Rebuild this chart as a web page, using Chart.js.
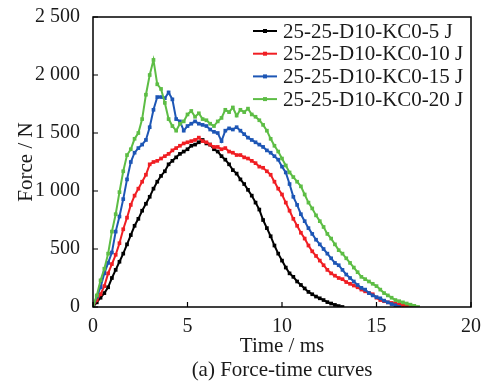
<!DOCTYPE html>
<html>
<head>
<meta charset="utf-8">
<script src="https://cdn.jsdelivr.net/npm/chart.js@4.4.1/dist/chart.umd.min.js"></script>
<style>
html,body{margin:0;padding:0;background:#fff;}
#wrap{width:485px;height:386px;position:relative;}
</style>
</head>
<body>
<div id="wrap"><canvas id="c" width="485" height="386"></canvas></div>
<script>
// Time axis (ms), shared by all series
const times = [0,0.2,0.4,0.6,0.8,1.0,1.2,1.4,1.6,1.8,2.0,2.2,2.4,2.6,2.8,3.0,3.2,3.4,3.6,3.8,4.0,4.2,4.4,4.6,4.8,5.0,5.2,5.4,5.6,5.8,6.0,6.2,6.4,6.6,6.8,7.0,7.2,7.4,7.6,7.8,8.0,8.2,8.4,8.6,8.8,9.0,9.2,9.4,9.6,9.8,10.0,10.2,10.4,10.6,10.8,11.0,11.2,11.4,11.6,11.8,12.0,12.2,12.4,12.6,12.8,13.0,13.2,13.4,13.6,13.8,14.0,14.2,14.4,14.6,14.8,15.0,15.2,15.4,15.6,15.8,16.0,16.2,16.4,16.6,16.8,17.0,17.2];

const seriesLabels = ["25-25-D10-KC0-5 J","25-25-D10-KC0-10 J","25-25-D10-KC0-15 J","25-25-D10-KC0-20 J"];

const force5J = [0,40,80,120,170,250,320,390,460,540,
620,700,760,830,890,950,1020,1080,1130,1170,
1230,1260,1290,1320,1340,1360,1390,1400,1420,1440,
1410,1400,1360,1340,1300,1270,1230,1180,1150,1100,
1060,1010,960,900,840,750,680,610,530,460,
400,340,290,260,220,190,160,130,110,90,
75,60,42,30,18,8,0];

const force10J = [0,60,110,180,290,370,450,550,670,770,
880,960,1020,1080,1140,1230,1250,1260,1280,1300,
1320,1350,1370,1390,1410,1420,1430,1440,1460,1430,
1420,1400,1380,1380,1360,1370,1340,1330,1310,1310,
1290,1280,1260,1240,1210,1200,1170,1140,1080,1020,
970,900,830,760,700,640,590,530,480,440,
400,360,320,290,270,250,240,215,200,185,
170,150,135,120,110,80,60,50,40,35,
30,20,15,15,8,0];

const force15J = [0,90,170,290,380,470,650,780,930,1100,
1250,1330,1370,1400,1440,1550,1700,1810,1810,1800,
1850,1790,1620,1600,1520,1560,1580,1600,1580,1570,
1560,1530,1510,1500,1430,1520,1540,1530,1550,1520,
1490,1460,1440,1420,1400,1380,1350,1330,1300,1270,
1210,1160,1060,950,880,800,740,680,630,580,
540,500,460,420,380,360,320,280,250,220,
190,165,150,120,100,85,75,55,40,25,
15,0];

const force20J = [0,100,230,330,460,650,800,990,1170,1310,
1360,1450,1500,1620,1830,2000,2130,1920,1880,1760,
1620,1560,1520,1580,1600,1660,1690,1640,1670,1620,
1610,1580,1560,1600,1630,1700,1680,1720,1650,1700,
1680,1710,1660,1640,1610,1570,1520,1450,1390,1340,
1280,1220,1160,1120,1080,1040,970,900,850,790,
740,690,630,590,540,490,460,420,380,340,
300,260,240,220,200,180,150,120,100,80,
60,50,40,30,20,10,0];

const xTicks = [0,5,10,15,20];
const yTicks = [0,500,1000,1500,2000,2500];
const xTitle = "Time / ms";
const yTitle = "Force / N";
const caption = "(a) Force-time curves";

const colors = ["#000000","#f01e23","#1d56b5","#5dbd45"];
const FONT = "'Liberation Serif','Times New Roman',serif";

function pts(vals){ return vals.map((v,i)=>({x:times[i], y:v})); }
const seriesVals = [force5J, force10J, force15J, force20J];

const datasets = seriesVals.map((vals,i)=>({
  label: seriesLabels[i],
  data: pts(vals),
  borderColor: colors[i],
  backgroundColor: colors[i],
  borderWidth: 2,
  pointStyle: 'rect',
  pointRadius: 2.6,
  pointBorderWidth: 0,
  pointHoverRadius: 2.6,
  tension: 0,
  order: 4 - i
}));

function fmt(v){
  const s = String(v);
  if (s.length > 3) return s.slice(0, s.length-3) + " " + s.slice(s.length-3);
  return s;
}

const framePlugin = {
  id: 'frame',
  afterDraw(chart){
    const ctx = chart.ctx, a = chart.chartArea;
    const xs = chart.scales.x, ys = chart.scales.y;
    ctx.save();
    ctx.strokeStyle = '#000';
    ctx.lineWidth = 1.5;
    ctx.strokeRect(a.left, a.top, a.right - a.left, a.bottom - a.top);
    ctx.lineWidth = 1.2;
    ctx.beginPath();
    xTicks.forEach(v=>{
      const p = xs.getPixelForValue(v);
      ctx.moveTo(p, a.bottom); ctx.lineTo(p, a.bottom - 5);
    });
    yTicks.forEach(v=>{
      const p = ys.getPixelForValue(v);
      ctx.moveTo(a.left, p); ctx.lineTo(a.left + 5, p);
    });
    ctx.stroke();

    // legend
    ctx.font = "21px " + FONT;
    ctx.textBaseline = 'middle';
    ctx.textAlign = 'left';
    chart.data.datasets.forEach((ds,i)=>{
      const y = 31 + i*22.7;
      ctx.strokeStyle = ds.borderColor;
      ctx.lineWidth = 2;
      ctx.beginPath(); ctx.moveTo(253, y); ctx.lineTo(277, y); ctx.stroke();
      ctx.fillStyle = ds.borderColor;
      ctx.fillRect(265 - 2, y - 2, 4, 4);
      ctx.fillStyle = '#1a1a1a';
      ctx.fillText(ds.label, 283, y + 1);
    });

    // caption
    ctx.textAlign = 'center';
    ctx.fillStyle = '#1a1a1a';
    ctx.fillText(caption, (a.left + a.right)/2, 370);
    ctx.restore();
  }
};

new Chart(document.getElementById('c'), {
  type: 'line',
  data: { datasets },
  options: {
    responsive: false,
    animation: false,
    devicePixelRatio: 1,
    layout: { padding: { left: 0, right: 14, top: 13, bottom: 0 } },
    plugins: { legend: { display: false }, tooltip: { enabled: false }, title: { display: false } },
    scales: {
      x: {
        type: 'linear',
        min: 0, max: 20,
        afterBuildTicks(s){ s.ticks = xTicks.map(v=>({value:v})); },
        afterFit(s){ s.height = 79; },
        grid: { display: false },
        border: { display: false },
        ticks: { color: '#1a1a1a', padding: 0, font: { family: FONT, size: 20 } },
        title: { display: true, text: xTitle, color: '#1a1a1a', font: { family: FONT, size: 21 }, padding: { top: 0, bottom: 27 } }
      },
      y: {
        type: 'linear',
        min: 0, max: 2500,
        afterBuildTicks(s){ s.ticks = yTicks.map(v=>({value:v})); },
        afterFit(s){ s.width = 93; },
        grid: { display: false },
        border: { display: false },
        ticks: { color: '#1a1a1a', padding: 5, font: { family: FONT, size: 20 }, callback: (v)=>fmt(v) },
        title: { display: true, text: yTitle, color: '#1a1a1a', font: { family: FONT, size: 21 }, padding: { top: 14, bottom: 0 } }
      }
    }
  },
  plugins: [framePlugin]
});
</script>
</body>
</html>
